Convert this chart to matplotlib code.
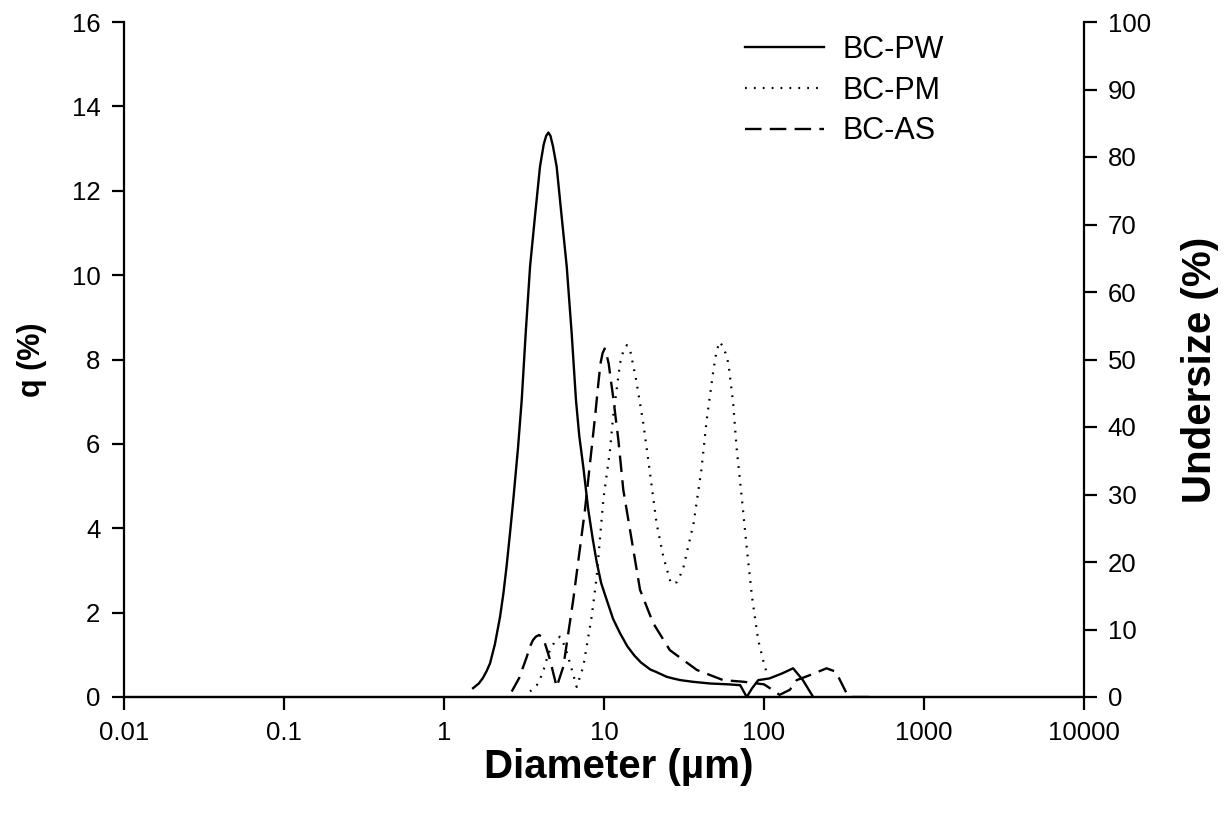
import matplotlib
matplotlib.use("Agg")
import matplotlib.pyplot as plt

plt.rcParams["font.family"] = ["Liberation Sans", "DejaVu Sans"]

# BC-PW (solid)
pw_d = [1.52, 1.65, 1.75, 1.85, 1.94, 2.08, 2.24, 2.35, 2.46, 2.58, 2.71, 2.9, 3.06, 3.24,
        3.45, 3.70, 3.98, 4.2, 4.35, 4.49, 4.63, 4.8, 5.06, 5.44, 5.85, 6.28, 6.68, 7.0,
        7.42, 7.98, 8.5, 9.0, 9.6, 10.4, 11.4, 12.6, 14.0, 15.5, 17.0, 19.5, 21.0, 24.6,
        27, 30, 36, 46, 60, 71, 78, 84, 92, 108, 130, 152, 175, 203]
pw_q = [0.21, 0.32, 0.45, 0.62, 0.80, 1.25, 1.90, 2.45, 3.09, 3.85, 4.67, 5.9, 7.04, 8.62,
        10.2, 11.38, 12.57, 13.1, 13.3, 13.38, 13.3, 13.05, 12.57, 11.38, 10.2, 8.62, 7.04, 6.2,
        5.46, 4.43, 3.75, 3.2, 2.7, 2.30, 1.85, 1.51, 1.2, 0.98, 0.82, 0.65, 0.6, 0.48,
        0.44, 0.40, 0.36, 0.32, 0.30, 0.28, 0.0, 0.2, 0.40, 0.44, 0.56, 0.68, 0.40, 0.0]

# BC-PM (dotted)
pm_d = [3.45, 3.89, 4.2, 4.49, 4.9, 5.3, 5.7, 6.13, 6.75, 7.42, 8.37, 9.0, 9.9, 10.9, 11.4,
        12.6, 13.2, 13.9, 14.6, 15.9, 17.6, 19.4, 21.3, 23.5, 26.2, 28.5, 31.1, 36.3, 40.6,
        43.8, 48.3, 50.5, 52.9, 55.5, 57.5, 59.9, 64.2, 67.3, 72.5, 77.9, 84.1, 92.0, 101, 106]
pm_q = [0.13, 0.32, 0.65, 1.03, 1.3, 1.43, 1.2, 0.80, 0.24, 0.72, 1.90, 2.85, 4.67, 5.85, 6.64,
        7.91, 8.2, 8.34, 8.2, 7.51, 6.49, 5.30, 4.12, 3.32, 2.69, 2.72, 3.01, 4.12, 5.38,
        6.56, 7.75, 8.2, 8.42, 8.3, 8.15, 7.91, 6.96, 5.93, 4.75, 3.56, 2.38, 1.35, 0.72, 0.5]

# BC-AS (dashed)
as_d = [2.65, 2.95, 3.29, 3.45, 3.6, 3.75, 3.93, 4.1, 4.25, 4.4, 4.6, 5.06, 5.57, 6.42, 7.6,
        8.79, 9.2, 9.5, 9.8, 10.1, 10.4, 10.7, 11.0, 11.4, 12.3, 13.2, 14.9, 16.8, 20.3,
        25.8, 38.1, 55.6, 75, 100, 115, 125, 145, 160, 194, 246, 281, 327, 350, 460]
as_q = [0.13, 0.45, 0.95, 1.2, 1.35, 1.43, 1.47, 1.42, 1.3, 1.12, 0.88, 0.24, 0.72, 2.30, 4.43,
        6.64, 7.4, 7.9, 8.15, 8.26, 8.1, 7.9, 7.55, 7.12, 6.09, 4.91, 3.72, 2.54, 1.75,
        1.11, 0.64, 0.40, 0.36, 0.30, 0.15, 0.05, 0.17, 0.40, 0.52, 0.68, 0.60, 0.10, 0.0, 0.0]

x_ticks = [0.01, 0.1, 1, 10, 100, 1000, 10000]
x_labels = ["0.01", "0.1", "1", "10", "100", "1000", "10000"]

fig = plt.figure(figsize=(12.31, 8.23), dpi=100)
ax = fig.add_axes([124 / 1231, 1 - 697 / 823, 960 / 1231, 675 / 823])

ax.plot(pw_d, pw_q, color="black", lw=1.7, ls="-", label="BC-PW")
ax.plot(pm_d, pm_q, color="black", lw=1.6, ls=(0, (0.8, 3.2)), label="BC-PM")
ax.plot(as_d, as_q, color="black", lw=1.7, ls=(0, (7, 3.5)), label="BC-AS")

ax.set_xscale("log")
ax.set_xlim(0.01, 10000)
ax.set_ylim(0, 16)
ax.set_xticks(x_ticks)
ax.set_xticklabels(x_labels)
ax.minorticks_off()
ax.set_yticks(range(0, 17, 2))

ax2 = ax.twinx()
ax2.set_ylim(0, 100)
ax2.set_yticks(range(0, 101, 10))

for a in (ax, ax2):
    a.spines["top"].set_visible(False)
    for s in ("left", "right", "bottom"):
        a.spines[s].set_linewidth(1.6)
    a.tick_params(direction="out", length=9, width=1.6, labelsize=18.5, pad=8)
ax2.spines["left"].set_visible(False)
ax.spines["right"].set_visible(False)

fig.text(619 / 1231, 1 - 767 / 823, "Diameter (µm)", fontsize=29, fontweight="bold",
         ha="center", va="center")
fig.text(32 / 1231, 1 - 360 / 823, "q (%)", fontsize=22, fontweight="bold",
         ha="center", va="center", rotation=90)
fig.text(1200 / 1231, 1 - 370 / 823, "Undersize (%)", fontsize=29, fontweight="bold",
         ha="center", va="center", rotation=90)

ax.legend(loc="upper left", bbox_to_anchor=(745 / 1231, 1 - 35 / 823),
          bbox_transform=fig.transFigure, frameon=False, fontsize=22,
          handlelength=2.6, handletextpad=0.6, labelspacing=0.35,
          borderpad=0, borderaxespad=0)

fig.savefig("out.png", dpi=100)
